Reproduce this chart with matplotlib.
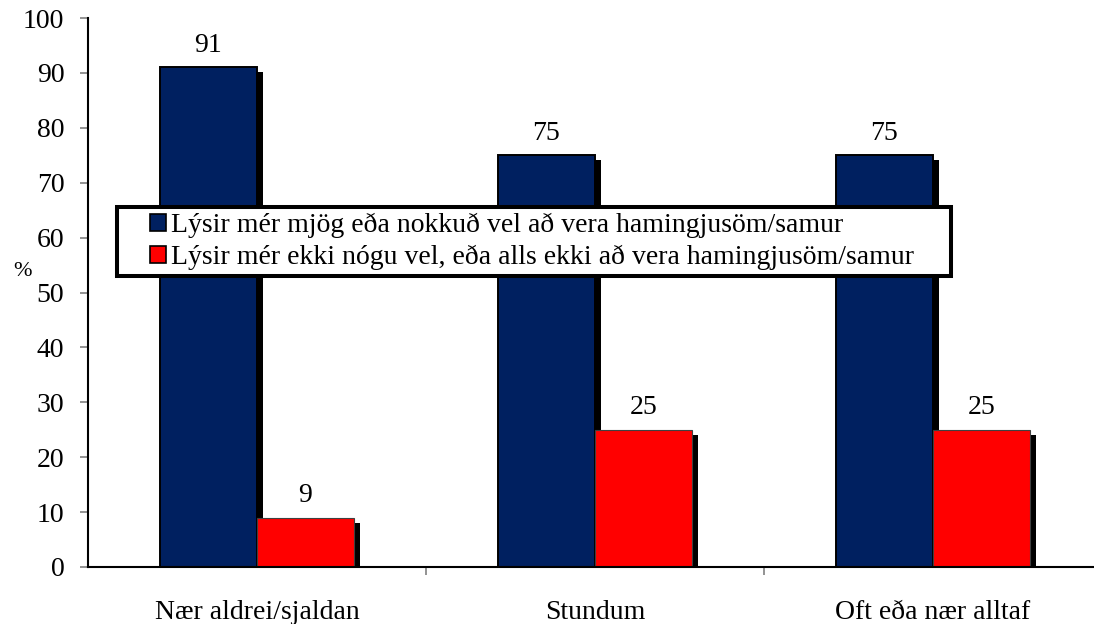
"""Grouped bar chart: share describing themselves as happy, by frequency."""

import matplotlib

matplotlib.use("Agg")

import matplotlib.pyplot as plt                 # noqa: E402
import matplotlib.transforms as mtransforms     # noqa: E402
from matplotlib.patches import Rectangle        # noqa: E402
import numpy as np                              # noqa: E402

categories = ["Nær aldrei/sjaldan", "Stundum", "Oft eða nær alltaf"]
series_names = [
    "Lýsir mér mjög eða nokkuð vel að vera hamingjusöm/samur",
    "Lýsir mér ekki nógu vel, eða alls ekki að vera hamingjusöm/samur",
]
describes_well = [91, 75, 75]
describes_poorly = [9, 25, 25]
yticks = [0, 10, 20, 30, 40, 50, 60, 70, 80, 90, 100]

NAVY = "#002060"
RED = "#ff0000"
W, H = 1094, 624  # canvas size in pixels

plt.rcParams["font.family"] = ["Liberation Serif", "DejaVu Serif"]

fig = plt.figure(figsize=(W / 100, H / 100), dpi=100)
ax = fig.add_axes([88 / W, 57 / H, 1006 / W, 549 / H])

x = np.arange(len(categories))
width = 0.287

# drop shadow: same bars shifted a few pixels right/down
shadow = ax.transData + mtransforms.ScaledTranslation(6 / 100, -5 / 100,
                                                      fig.dpi_scale_trans)
for offs, vals in ((-width / 2, describes_well), (width / 2, describes_poorly)):
    ax.bar(x + offs, vals, width, color="black", transform=shadow, zorder=1)

b1 = ax.bar(x - width / 2, describes_well, width, color=NAVY,
            edgecolor="black", linewidth=1.4, zorder=2, label=series_names[0])
b2 = ax.bar(x + width / 2, describes_poorly, width, color=RED,
            edgecolor="#404040", linewidth=0.8, zorder=3, label=series_names[1])

for bars, vals in ((b1, describes_well), (b2, describes_poorly)):
    for rect, v in zip(bars, vals):
        ax.annotate(f"{v}", (rect.get_x() + rect.get_width() / 2, v),
                    xytext=(0, 7), textcoords="offset points",
                    ha="center", va="bottom", fontsize=20)

ax.set_ylim(0, 100)
ax.set_xlim(-0.5, -0.5 + 1006 / 338)
ax.set_yticks(yticks)
ax.tick_params(axis="y", direction="out", length=6, width=1.2,
               color="#808080", pad=11, labelsize=20)

ax.set_xticks(x)
ax.set_xticklabels(categories)
ax.tick_params(axis="x", which="major", length=0, pad=24, labelsize=20)
ax.set_xticks([0.5, 1.5], minor=True)
ax.tick_params(axis="x", which="minor", direction="out", length=6,
               width=1.2, color="#808080")

for side in ("top", "right"):
    ax.spines[side].set_visible(False)
for side in ("left", "bottom"):
    ax.spines[side].set_linewidth(1.5)
    ax.spines[side].set_zorder(4)

fig.text(22 / W, 1 - 272 / H, "%", fontsize=16, ha="center", va="center")

# legend box: white panel with a heavy black border
box = Rectangle((117 / W, 1 - 276 / H), (951 - 117) / W, (276 - 207) / H,
                transform=fig.transFigure, facecolor="white",
                edgecolor="black", linewidth=2.9, zorder=9, clip_on=False)
ax.add_patch(box)

leg = ax.legend(loc="center left", bbox_to_anchor=(150 / W, 1 - 241.5 / H),
                bbox_transform=fig.transFigure, borderaxespad=0, borderpad=0,
                fontsize=20, frameon=False, handlelength=0.58,
                handleheight=0.58, handletextpad=0.18, labelspacing=0.25)
leg.set_zorder(10)
for h in leg.legend_handles:
    h.set_edgecolor("black")
    h.set_linewidth(1.2)

fig.savefig("out.png", dpi=100)
plt.close(fig)
